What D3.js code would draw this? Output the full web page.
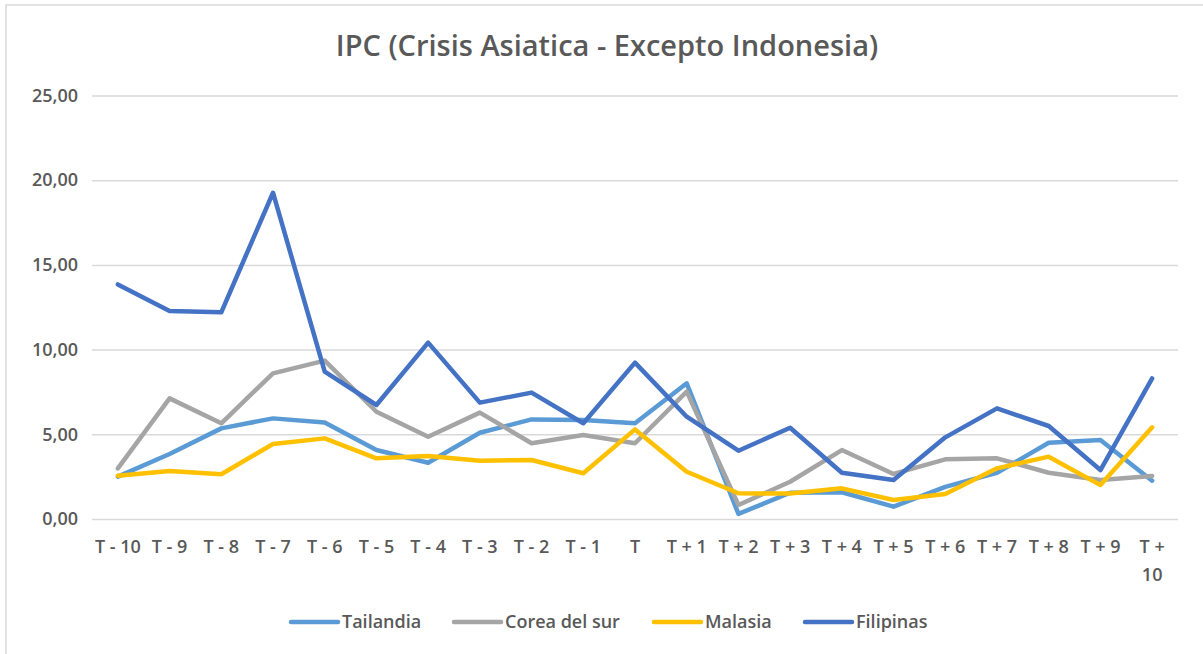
<!DOCTYPE html>
<html>
<head>
<meta charset="utf-8">
<script src="https://cdn.jsdelivr.net/npm/d3@7"></script>
<style>
  body { margin: 0; background: #fff; }
  svg { display: block; font-family: "Open Sans", "DejaVu Sans", sans-serif; }
</style>
</head>
<body>
<div id="chart"></div>
<script>
var categories = ["T - 10", "T - 9", "T - 8", "T - 7", "T - 6", "T - 5", "T - 4", "T - 3", "T - 2", "T - 1", "T",
  "T + 1", "T + 2", "T + 3", "T + 4", "T + 5", "T + 6", "T + 7", "T + 8", "T + 9", "T + 10"];

var tailandia = [2.50, 3.84, 5.35, 5.94, 5.69, 4.07, 3.32, 5.09, 5.88, 5.84, 5.65,
  8.01, 0.30, 1.55, 1.58, 0.73, 1.90, 2.73, 4.50, 4.66, 2.26];
var corea = [2.99, 7.12, 5.65, 8.60, 9.35, 6.33, 4.86, 6.28, 4.47, 4.96, 4.47,
  7.52, 0.83, 2.20, 4.07, 2.66, 3.52, 3.58, 2.73, 2.30, 2.54];
var malasia = [2.55, 2.83, 2.64, 4.43, 4.76, 3.58, 3.72, 3.44, 3.48, 2.70, 5.29,
  2.79, 1.52, 1.50, 1.81, 1.12, 1.48, 2.99, 3.68, 2.00, 5.41];
var filipinas = [13.85, 12.28, 12.20, 19.26, 8.70, 6.73, 10.41, 6.87, 7.46, 5.65, 9.23,
  6.04, 4.03, 5.39, 2.73, 2.30, 4.82, 6.53, 5.49, 2.89, 8.30];

var seriesNames = ["Tailandia", "Corea del sur", "Malasia", "Filipinas"];
var seriesColors = ["#5B9BD5", "#A5A5A5", "#FFC000", "#4472C4"];
var yTicks = [0, 5, 10, 15, 20, 25];

var series = [tailandia, corea, malasia, filipinas].map(function (v, i) {
  return { name: seriesNames[i], color: seriesColors[i], values: v };
});

var width = 1203, height = 654;
var svg = d3.select("#chart").append("svg")
  .attr("width", width)
  .attr("height", height);

// chart frame
svg.append("rect")
  .attr("x", 6).attr("y", 5)
  .attr("width", 1200).attr("height", 660)
  .attr("fill", "#fff")
  .attr("stroke", "#D9D9D9")
  .attr("stroke-width", 1.5);

var x = d3.scaleBand().domain(categories).range([92, 1178]);
var y = d3.scaleLinear().domain([0, 25]).range([519, 95.5]);

// title
svg.append("text")
  .attr("x", 607).attr("y", 56)
  .attr("text-anchor", "middle")
  .attr("fill", "#595959")
  .style("font-size", "29px")
  .style("font-weight", 600)
  .text("IPC (Crisis Asiatica - Excepto Indonesia)");

// gridlines + y labels
var fmt = function (d) { return d3.format(".2f")(d).replace(".", ","); };
var yAxis = svg.append("g")
  .attr("transform", "translate(92,0)")
  .call(d3.axisLeft(y).tickValues(yTicks).tickSize(-1086).tickPadding(14).tickFormat(fmt));
yAxis.select(".domain").remove();
yAxis.selectAll(".tick line").attr("stroke", "#D9D9D9").attr("stroke-width", 1.5);
yAxis.selectAll(".tick text")
  .attr("fill", "#595959")
  .style("font-size", "18px")
  .style("font-weight", 600)
  .style("font-family", "'Open Sans', sans-serif");

// x labels
var xAxis = svg.append("g")
  .attr("transform", "translate(0,519)")
  .call(d3.axisBottom(x).tickSize(0).tickPadding(21));
xAxis.select(".domain").remove();
xAxis.selectAll(".tick text")
  .attr("fill", "#595959")
  .style("font-size", "18px")
  .style("font-weight", 600)
  .style("font-family", "'Open Sans', sans-serif")
  .each(function (d) {
    if (d === "T + 10") {
      var t = d3.select(this).text(null);
      t.append("tspan").attr("x", 0).attr("dy", "0.71em").text("T +");
      t.append("tspan").attr("x", 0).attr("dy", "1.55em").text("10");
      t.attr("dy", null);
    }
  });

// lines
var line = d3.line()
  .x(function (d, i) { return x(categories[i]) + x.bandwidth() / 2; })
  .y(function (d) { return y(d); });

svg.append("g").selectAll("path")
  .data(series)
  .enter()
  .append("path")
  .attr("d", function (s) { return line(s.values); })
  .attr("fill", "none")
  .attr("stroke", function (s) { return s.color; })
  .attr("stroke-width", 4.5)
  .attr("stroke-linejoin", "round")
  .attr("stroke-linecap", "round");

// legend
var legendX = [291, 454, 654, 805];
var legend = svg.append("g").selectAll("g")
  .data(series)
  .enter()
  .append("g")
  .attr("transform", function (s, i) { return "translate(" + legendX[i] + ",622)"; });
legend.append("line")
  .attr("x1", 0).attr("x2", 47)
  .attr("stroke", function (s) { return s.color; })
  .attr("stroke-width", 4.5)
  .attr("stroke-linecap", "round");
legend.append("text")
  .attr("x", 51).attr("dy", "0.35em")
  .attr("fill", "#595959")
  .style("font-size", "18px")
  .style("font-weight", 600)
  .text(function (s) { return s.name; });
</script>
</body>
</html>
